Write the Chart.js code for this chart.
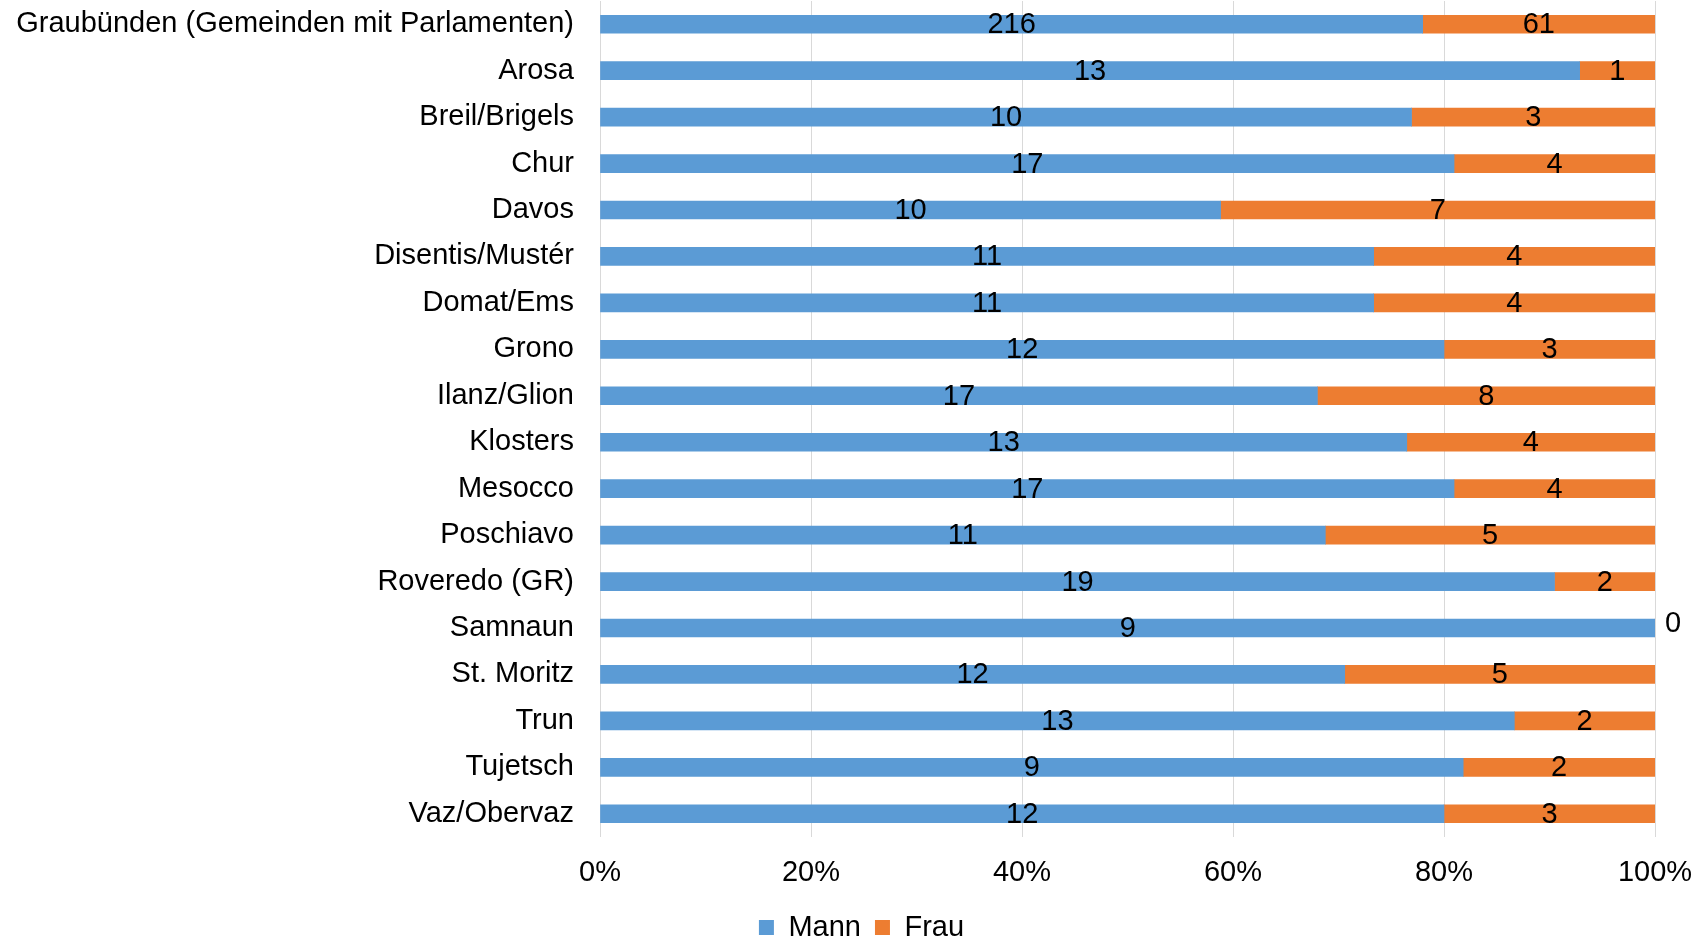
<!DOCTYPE html>
<html>
<head>
<meta charset="utf-8">
<script src="https://cdn.jsdelivr.net/npm/chart.js@4.4.1/dist/chart.umd.min.js"></script>
<style>
  html, body { margin: 0; padding: 0; background: #fff; }
  #wrap { width: 1707px; height: 940px; }
</style>
</head>
<body>
<div id="wrap"><canvas id="genderChart"></canvas></div>
<script>
  "use strict";

  var gemeinden = [
    "Graubünden (Gemeinden mit Parlamenten)",
    "Arosa",
    "Breil/Brigels",
    "Chur",
    "Davos",
    "Disentis/Mustér",
    "Domat/Ems",
    "Grono",
    "Ilanz/Glion",
    "Klosters",
    "Mesocco",
    "Poschiavo",
    "Roveredo (GR)",
    "Samnaun",
    "St. Moritz",
    "Trun",
    "Tujetsch",
    "Vaz/Obervaz"
  ];
  var mann = [216, 13, 10, 17, 10, 11, 11, 12, 17, 13, 17, 11, 19, 9, 12, 13, 9, 12];
  var frau = [61, 1, 3, 4, 7, 4, 4, 3, 8, 4, 4, 5, 2, 0, 5, 2, 2, 3];
  var xTicks = [0, 20, 40, 60, 80, 100];

  function share(part, i) {
    return part[i] / (mann[i] + frau[i]) * 100;
  }

  var FONT = "'Liberation Sans', Arial, sans-serif";

  // count labels centred in each segment (Excel style)
  var countLabels = {
    id: "countLabels",
    afterLayout: function (chart) {
      // long category names reach past the padded axis box; don't clip them
      chart.scales.y.left = 0;
    },
    afterDatasetsDraw: function (chart) {
      var ctx = chart.ctx;
      ctx.save();
      ctx.font = "29px " + FONT;
      ctx.fillStyle = "#000";
      ctx.textAlign = "center";
      ctx.textBaseline = "middle";
      chart.data.datasets.forEach(function (ds, di) {
        var meta = chart.getDatasetMeta(di);
        meta.data.forEach(function (bar, i) {
          var v = ds.counts[i];
          var x = (bar.x + bar.base) / 2;
          var y = bar.y + 1;
          if (v === 0) {
            x = bar.x + 18;
            y = bar.y - 4;
          }
          ctx.fillText(String(v), x, y);
        });
      });
      ctx.restore();
    }
  };

  new Chart(document.getElementById("genderChart"), {
    type: "bar",
    data: {
      labels: gemeinden,
      datasets: [
        {
          label: "Mann",
          data: mann.map(function (v, i) { return share(mann, i); }),
          counts: mann,
          backgroundColor: "#5B9BD5",
          barThickness: 18
        },
        {
          label: "Frau",
          data: frau.map(function (v, i) { return share(frau, i); }),
          counts: frau,
          backgroundColor: "#ED7D31",
          barThickness: 18
        }
      ]
    },
    options: {
      indexAxis: "y",
      responsive: true,
      maintainAspectRatio: false,
      animation: false,
      layout: { padding: { left: 68, right: 52, top: 1, bottom: -12 } },
      plugins: {
        legend: {
          position: "bottom",
          labels: {
            font: { family: FONT, size: 29 },
            color: "#000",
            boxWidth: 15,
            boxHeight: 15,
            padding: 14
          }
        },
        tooltip: { enabled: false }
      },
      scales: {
        x: {
          stacked: true,
          min: 0,
          max: 100,
          afterBuildTicks: function (scale) {
            scale.ticks = xTicks.map(function (v) { return { value: v }; });
          },
          ticks: {
            font: { family: FONT, size: 29 },
            color: "#000",
            padding: 19,
            maxRotation: 0,
            callback: function (v) { return v + "%"; }
          },
          grid: { color: "#D9D9D9", lineWidth: 1, drawTicks: false },
          border: { display: false },
          afterFit: function (scale) {
            scale.height = 62;
            scale.paddingLeft = 0;
            scale.paddingRight = 0;
          }
        },
        y: {
          stacked: true,
          ticks: {
            font: { family: FONT, size: 29 },
            color: "#000",
            padding: 26,
            autoSkip: false
          },
          grid: { display: false, drawTicks: false },
          border: { display: false },
          afterFit: function (scale) {
            scale.width = 532;
            scale.paddingTop = 0;
            scale.paddingBottom = 0;
          }
        }
      }
    },
    plugins: [countLabels]
  });
</script>
</body>
</html>
